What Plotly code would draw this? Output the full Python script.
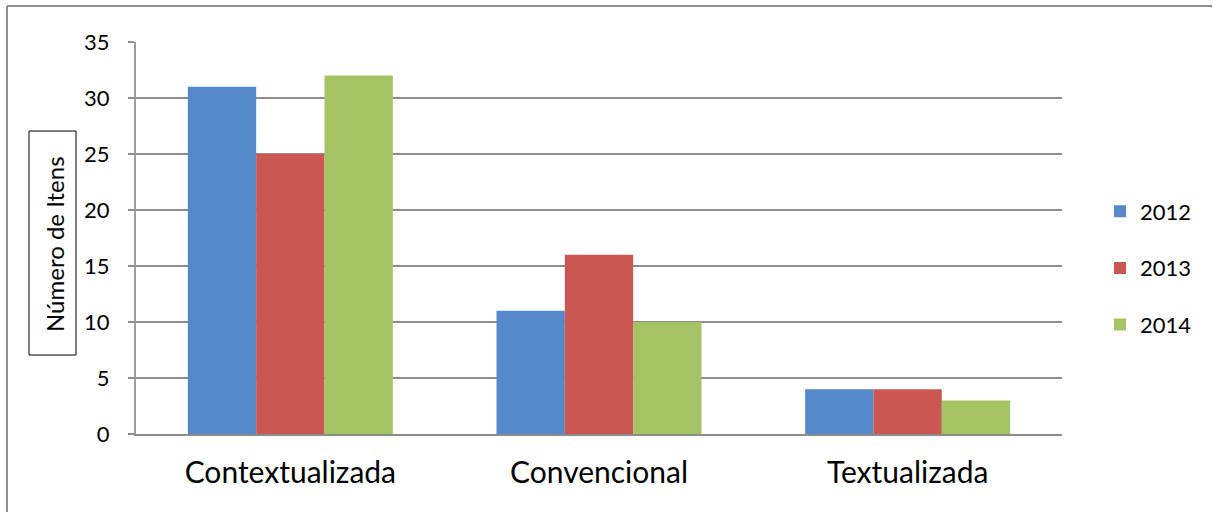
import plotly.graph_objects as go

categories = ["Contextualizada", "Convencional", "Textualizada"]
years = ["2012", "2013", "2014"]
values_2012 = [31, 11, 4]
values_2013 = [25, 16, 4]
values_2014 = [32, 10, 3]
y_ticks = [0, 5, 10, 15, 20, 25, 30, 35]

colors = ["#5589C9", "#CB5752", "#A3C364"]
font_family = "Lato, Open Sans, sans-serif"

fig = go.Figure()
for i, (yr, vals) in enumerate(zip(years, [values_2012, values_2013, values_2014])):
    fig.add_trace(go.Bar(
        x=categories, y=vals, name=yr,
        marker=dict(color=colors[i], line=dict(width=0)),
        legendgroup=yr,
    ))

# plot area in pixels: x 136..1062, y 42..434
W, H = 1213, 512
L, R, T, B = 136, 1062, 42, 434
pw, ph = R - L, B - T


def px(x):
    return (x - L) / pw


def py(y):
    return (B - y) / ph


fig.update_layout(
    width=W, height=H,
    margin=dict(l=L, r=W - R, t=T, b=H - B, autoexpand=False),
    paper_bgcolor="white", plot_bgcolor="white",
    font=dict(family=font_family, color="black", size=22),
    barmode="group", bargap=0.336, bargroupgap=0,
    showlegend=True,
    legend=dict(x=px(1100), y=py(268), xanchor="left", yanchor="middle",
                font=dict(size=22), tracegroupgap=25,
                itemwidth=30, bgcolor="rgba(0,0,0,0)"),
    xaxis=dict(showgrid=False, showline=True, linecolor="#8C8C8C", linewidth=2,
               ticks="", tickfont=dict(size=30), ticklabelstandoff=11,
               fixedrange=True),
    yaxis=dict(range=[0, 35], tickvals=y_ticks, showgrid=True,
               gridcolor="#8C8C8C", gridwidth=2, showline=True,
               linecolor="#9C9C9C", linewidth=2, ticks="outside", ticklen=6,
               tickcolor="#8C8C8C", tickwidth=2, tickfont=dict(size=22),
               ticklabelstandoff=14, zeroline=False, fixedrange=True),
)

# y-axis title in a box
fig.add_shape(type="rect", xref="paper", yref="paper",
              x0=px(29), x1=px(76), y0=py(131), y1=py(355),
              line=dict(color="black", width=1), fillcolor="white", layer="below")
fig.add_annotation(
    xref="paper", yref="paper", x=px(54), y=py(244),
    xanchor="center", yanchor="middle",
    text="Número de Itens", textangle=-90, showarrow=False,
    font=dict(size=24),
)

# outer chart border (left and top visible)
fig.add_shape(type="line", xref="paper", yref="paper",
              x0=px(7), x1=px(7), y0=py(6), y1=py(530),
              line=dict(color="#8C8C8C", width=2))
fig.add_shape(type="line", xref="paper", yref="paper",
              x0=px(7), x1=px(1212), y0=py(6), y1=py(6),
              line=dict(color="#8C8C8C", width=2))

fig.write_html("out.html", config={"displayModeBar": False},
               post_script="document.body.style.margin='0';")
